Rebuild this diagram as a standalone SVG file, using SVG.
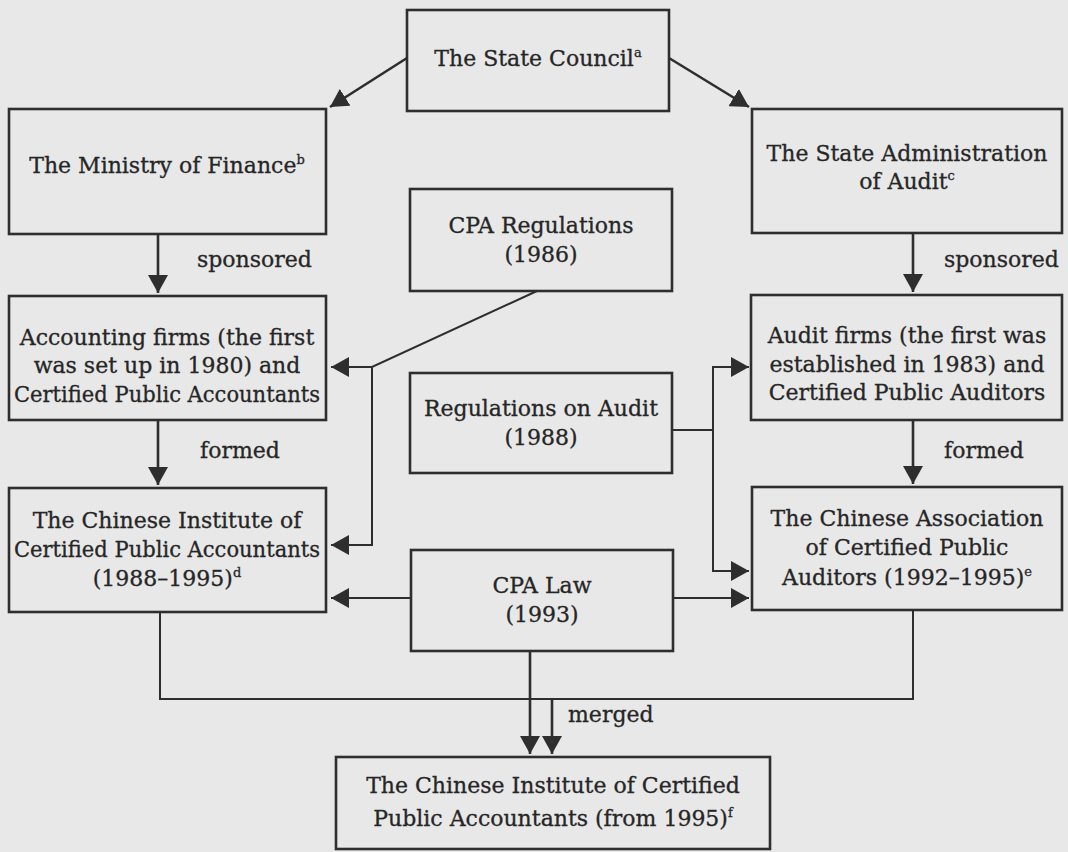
<svg xmlns="http://www.w3.org/2000/svg" width="1068" height="852" viewBox="0 0 1068 852">
<defs>
<style>
.bg{fill:#e8e8e8}
.box{fill:none;stroke:#2e2e2e;stroke-width:2.6}
.t{font-family:"DejaVu Serif","Liberation Serif",serif;font-size:22px;fill:#262626;stroke:#262626;stroke-width:0.3;text-anchor:middle}
.l{font-family:"DejaVu Serif","Liberation Serif",serif;font-size:22px;fill:#262626;stroke:#262626;stroke-width:0.3}
.sup{font-size:13px}
.c{fill:none;stroke:#2e2e2e;stroke-width:2.6}
.c2{fill:none;stroke:#2e2e2e;stroke-width:2}
</style>
<marker id="ah" markerUnits="userSpaceOnUse" markerWidth="20" markerHeight="20" refX="18" refY="10" orient="auto">
<path d="M0,0 L18,10 L0,20 z" fill="#2e2e2e"/>
</marker>
</defs>
<rect class="bg" x="0" y="0" width="1068" height="852"/>

<g id="connectors">
<path class="c" d="M407,58 L330,107" marker-end="url(#ah)"/>
<path class="c" d="M669,58 L749,107" marker-end="url(#ah)"/>
<path class="c" d="M158,234 L158,293" marker-end="url(#ah)"/>
<path class="c" d="M913,233 L913,292" marker-end="url(#ah)"/>
<path class="c" d="M158,420 L158,485" marker-end="url(#ah)"/>
<path class="c" d="M913,420 L913,484" marker-end="url(#ah)"/>
<path class="c2" d="M537,291 L372,367 L331,367" marker-end="url(#ah)"/>
<path class="c2" d="M372,367 L372,545 L331,545" marker-end="url(#ah)"/>
<path class="c2" d="M672,430 L713,430"/>
<path class="c2" d="M713,430 L713,367 L749,367" marker-end="url(#ah)"/>
<path class="c2" d="M713,430 L713,571 L749,571" marker-end="url(#ah)"/>
<path class="c2" d="M411,598 L331,598" marker-end="url(#ah)"/>
<path class="c2" d="M673,598 L749,598" marker-end="url(#ah)"/>
<path class="c2" d="M160,612 L160,699 L913,699 L913,610"/>
<path class="c" d="M530,651 L530,754" marker-end="url(#ah)"/>
<path class="c" d="M552,699 L552,754" marker-end="url(#ah)"/>
<text class="l" x="197" y="267">sponsored</text>
<text class="l" x="944" y="267">sponsored</text>
<text class="l" x="200" y="458">formed</text>
<text class="l" x="944" y="458">formed</text>
<text class="l" x="568" y="722">merged</text>
</g>

<g id="state-council">
<rect class="box" x="407" y="10" width="262" height="101"/>
<text class="t" x="538" y="66">The State Council<tspan class="sup" dy="-9">a</tspan></text>
</g>
<g id="ministry-of-finance">
<rect class="box" x="9" y="109" width="317" height="125"/>
<text class="t" x="167" y="173">The Ministry of Finance<tspan class="sup" dy="-9">b</tspan></text>
</g>
<g id="state-admin-audit">
<rect class="box" x="752" y="109" width="310" height="124"/>
<text class="t" x="907" y="161">The State Administration</text>
<text class="t" x="907" y="189">of Audit<tspan class="sup" dy="-9">c</tspan></text>
</g>
<g id="cpa-regulations">
<rect class="box" x="410" y="189" width="262" height="102"/>
<text class="t" x="541" y="233">CPA Regulations</text>
<text class="t" x="541" y="262">(1986)</text>
</g>
<g id="accounting-firms">
<rect class="box" x="9" y="296" width="317" height="124"/>
<text class="t" x="167" y="345">Accounting firms (the first</text>
<text class="t" x="167" y="373">was set up in 1980) and</text>
<text class="t" x="167" y="402" textLength="306" lengthAdjust="spacingAndGlyphs">Certified Public Accountants</text>
</g>
<g id="audit-firms">
<rect class="box" x="751" y="295" width="311" height="125"/>
<text class="t" x="907" y="343">Audit firms (the first was</text>
<text class="t" x="907" y="372">established in 1983) and</text>
<text class="t" x="907" y="400">Certified Public Auditors</text>
</g>
<g id="regulations-on-audit">
<rect class="box" x="410" y="373" width="262" height="100"/>
<text class="t" x="541" y="416">Regulations on Audit</text>
<text class="t" x="541" y="445">(1988)</text>
</g>
<g id="cicpa-1988">
<rect class="box" x="9" y="488" width="317" height="124"/>
<text class="t" x="167" y="528">The Chinese Institute of</text>
<text class="t" x="167" y="557" textLength="306" lengthAdjust="spacingAndGlyphs">Certified Public Accountants</text>
<text class="t" x="167" y="586">(1988–1995)<tspan class="sup" dy="-9">d</tspan></text>
</g>
<g id="cacpa">
<rect class="box" x="752" y="487" width="310" height="123"/>
<text class="t" x="907" y="526">The Chinese Association</text>
<text class="t" x="907" y="555">of Certified Public</text>
<text class="t" x="907" y="585">Auditors (1992–1995)<tspan class="sup" dy="-9">e</tspan></text>
</g>
<g id="cpa-law">
<rect class="box" x="411" y="550" width="262" height="101"/>
<text class="t" x="542" y="593">CPA Law</text>
<text class="t" x="542" y="622">(1993)</text>
</g>
<g id="cicpa-1995">
<rect class="box" x="336" y="757" width="434" height="92"/>
<text class="t" x="553" y="793">The Chinese Institute of Certified</text>
<text class="t" x="553" y="826">Public Accountants (from 1995)<tspan class="sup" dy="-9">f</tspan></text>
</g>
</svg>
